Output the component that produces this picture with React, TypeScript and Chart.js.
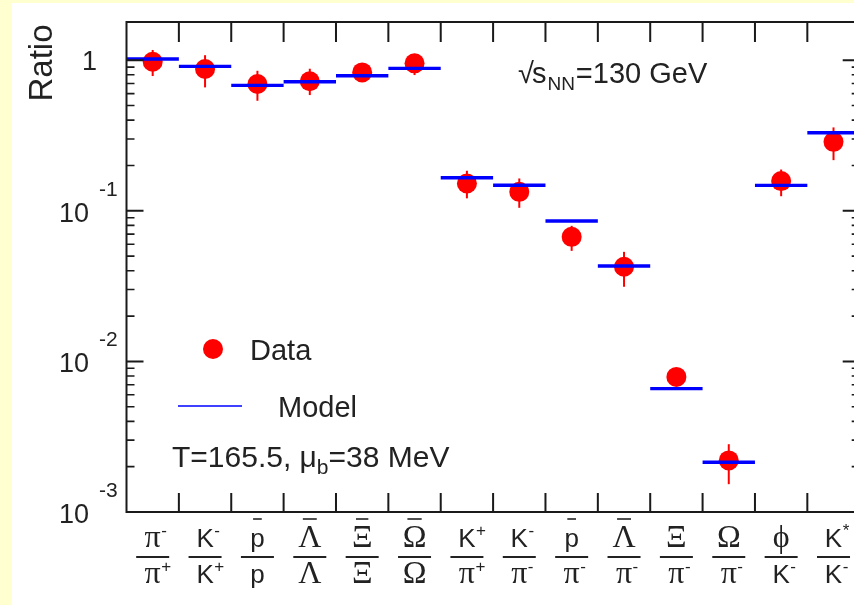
import React, { useEffect, useRef } from 'react';
import { Chart, registerables } from 'chart.js';

Chart.register(...registerables);

// ---------------- data ----------------
const categories = ['π-/π+', 'K-/K+', 'p̄/p', 'Λ̄/Λ', 'Ξ̄/Ξ', 'Ω̄/Ω', 'K+/π+', 'K-/π-', 'p̄/π-', 'Λ̄/π-', 'Ξ/π-', 'Ω/π-', 'ϕ/K-', 'K*/K-'];

type Sym = { t: string; greek?: boolean; bar?: boolean; sup?: string };

const numerators: Sym[] = [
  { t: 'π', greek: true, sup: '-' },
  { t: 'K', sup: '-' },
  { t: 'p', bar: true },
  { t: 'Λ', greek: true, bar: true },
  { t: 'Ξ', greek: true, bar: true },
  { t: 'Ω', greek: true, bar: true },
  { t: 'K', sup: '+' },
  { t: 'K', sup: '-' },
  { t: 'p', bar: true },
  { t: 'Λ', greek: true, bar: true },
  { t: 'Ξ', greek: true },
  { t: 'Ω', greek: true },
  { t: 'ϕ', greek: true },
  { t: 'K', sup: '*' },
];

const denominators: Sym[] = [
  { t: 'π', greek: true, sup: '+' },
  { t: 'K', sup: '+' },
  { t: 'p' },
  { t: 'Λ', greek: true },
  { t: 'Ξ', greek: true },
  { t: 'Ω', greek: true },
  { t: 'π', greek: true, sup: '+' },
  { t: 'π', greek: true, sup: '-' },
  { t: 'π', greek: true, sup: '-' },
  { t: 'π', greek: true, sup: '-' },
  { t: 'π', greek: true, sup: '-' },
  { t: 'π', greek: true, sup: '-' },
  { t: 'K', sup: '-' },
  { t: 'K', sup: '-' },
];

const dataValues = [0.977, 0.874, 0.695, 0.725, 0.83, 0.953, 0.152, 0.1337, 0.0672, 0.0425, 0.00789, 0.0022, 0.1575, 0.287];
const errLow = [0.785, 0.66, 0.538, 0.587, 0.8, 0.797, 0.121, 0.1047, 0.0542, 0.0313, 0.0076, 0.00153, 0.125, 0.217];
const errHigh = [1.17, 1.08, 0.851, 0.878, 0.86, 1.1, 0.1845, 0.164, 0.0795, 0.0534, 0.0082, 0.00282, 0.188, 0.358];
const modelValues = [1.02, 0.91, 0.681, 0.72, 0.789, 0.883, 0.1657, 0.148, 0.0855, 0.043, 0.0066, 0.00214, 0.1475, 0.33];

const yMajorTicks = [0.001, 0.01, 0.1, 1];
const yMajorLabels = [
  { base: '10', sup: '-3' },
  { base: '10', sup: '-2' },
  { base: '10', sup: '-1' },
  { base: '1', sup: '' },
];

// ---------------- styling ----------------
const SANS = '"Liberation Sans", Arial, Helvetica, sans-serif';
const SERIF = '"Liberation Serif", "DejaVu Serif", "Times New Roman", serif';
const TEXT = '#222222';
const AXIS = '#1a1a1a';
const RED = '#ff0000';
const BLUE = '#0000ff';

function drawSym(ctx: CanvasRenderingContext2D, s: Sym, cx: number, by: number, size: number) {
  ctx.font = s.greek ? `${size + 6}px ${SERIF}` : `${size}px ${SANS}`;
  const w = ctx.measureText(s.t).width;
  const x0 = cx - w / 2;
  ctx.textAlign = 'left';
  ctx.textBaseline = 'alphabetic';
  ctx.fillText(s.t, x0, by);
  if (s.sup) {
    ctx.font = `${Math.round(size * 0.64)}px ${SANS}`;
    ctx.fillText(s.sup, x0 + w + 0.5, by - size * 0.42);
  }
  if (s.bar) {
    ctx.save();
    ctx.lineWidth = 1.6;
    ctx.strokeStyle = TEXT;
    ctx.beginPath();
    ctx.moveTo(x0 + w * 0.2, by - 28);
    ctx.lineTo(x0 + w * 0.8, by - 28);
    ctx.stroke();
    ctx.restore();
  }
}

const framePlugin = {
  id: 'framePlugin',
  beforeDraw(chart: any) {
    const ctx = chart.ctx as CanvasRenderingContext2D;
    ctx.save();
    ctx.fillStyle = '#ffffcf';
    ctx.fillRect(0, 0, chart.width, chart.height);
    ctx.fillStyle = '#ffffff';
    ctx.fillRect(12, 3, chart.width - 12, chart.height - 3);
    ctx.restore();
  },
  beforeDatasetsDraw(chart: any) {
    const ctx = chart.ctx as CanvasRenderingContext2D;
    const xs = chart.scales.x;
    const ys = chart.scales.y;
    ctx.save();
    ctx.strokeStyle = RED;
    ctx.lineWidth = 2;
    dataValues.forEach((_, i) => {
      const x = xs.getPixelForValue(i);
      ctx.beginPath();
      ctx.moveTo(x, ys.getPixelForValue(errLow[i]));
      ctx.lineTo(x, ys.getPixelForValue(errHigh[i]));
      ctx.stroke();
    });
    ctx.restore();
  },
  afterDraw(chart: any) {
    const ctx = chart.ctx as CanvasRenderingContext2D;
    const xs = chart.scales.x;
    const ys = chart.scales.y;
    const { left, right, top, bottom } = chart.chartArea;
    ctx.save();
    // frame
    ctx.strokeStyle = AXIS;
    ctx.lineWidth = 2;
    ctx.strokeRect(left, top, right - left, bottom - top);
    // x ticks (category boundaries)
    ctx.beginPath();
    for (let i = 0; i < categories.length - 1; i++) {
      const x = xs.getPixelForValue(i + 0.5);
      ctx.moveTo(x, top);
      ctx.lineTo(x, top + 20);
      ctx.moveTo(x, bottom);
      ctx.lineTo(x, bottom - 19);
    }
    ctx.stroke();
    // y ticks
    ctx.beginPath();
    yMajorTicks.forEach((v) => {
      const y = ys.getPixelForValue(v);
      ctx.moveTo(left, y);
      ctx.lineTo(left + 17, y);
      ctx.moveTo(right, y);
      ctx.lineTo(right - 17, y);
    });
    ctx.stroke();
    ctx.lineWidth = 1.6;
    ctx.beginPath();
    for (let d = -3; d < 0; d++) {
      for (let k = 2; k <= 9; k++) {
        const y = ys.getPixelForValue(k * Math.pow(10, d));
        ctx.moveTo(left, y);
        ctx.lineTo(left + 8, y);
        ctx.moveTo(right, y);
        ctx.lineTo(right - 8, y);
      }
    }
    ctx.stroke();

    // y tick labels
    ctx.fillStyle = TEXT;
    ctx.textBaseline = 'alphabetic';
    yMajorTicks.forEach((v, i) => {
      const y = ys.getPixelForValue(v);
      const lab = yMajorLabels[i];
      ctx.font = `27px ${SANS}`;
      if (lab.sup) {
        ctx.textAlign = 'right';
        ctx.fillText(lab.base, 89, y + 11);
        ctx.font = `21px ${SANS}`;
        ctx.textAlign = 'left';
        ctx.fillText(lab.sup, 99, y - 15);
      } else {
        ctx.textAlign = 'right';
        ctx.fillText(lab.base, 97, y + 10);
      }
    });

    // y title
    ctx.save();
    ctx.translate(52, 63);
    ctx.rotate(-Math.PI / 2);
    ctx.font = `33px ${SANS}`;
    ctx.textAlign = 'center';
    ctx.fillText('Ratio', 0, 0);
    ctx.restore();

    // x labels (fractions)
    ctx.fillStyle = TEXT;
    categories.forEach((_, i) => {
      const cx = xs.getPixelForValue(i);
      drawSym(ctx, numerators[i], cx, 547, 26);
      drawSym(ctx, denominators[i], cx, 583, 26);
      ctx.lineWidth = 2;
      ctx.strokeStyle = TEXT;
      ctx.beginPath();
      ctx.moveTo(cx - 16.5, 557);
      ctx.lineTo(cx + 16.5, 557);
      ctx.stroke();
    });

    // energy text
    ctx.textAlign = 'left';
    let x = 518;
    ctx.font = `29px ${SANS}`;
    ctx.fillText('√', x, 83);
    x += ctx.measureText('√').width - 2;
    ctx.fillText('s', x, 83);
    x += ctx.measureText('s').width + 1;
    ctx.font = `19px ${SANS}`;
    ctx.fillText('NN', x, 90);
    x += ctx.measureText('NN').width + 1;
    ctx.font = `29px ${SANS}`;
    ctx.fillText('=130 GeV', x, 83);

    // legend
    ctx.fillStyle = RED;
    ctx.beginPath();
    ctx.arc(213, 349, 10, 0, Math.PI * 2);
    ctx.fill();
    ctx.fillStyle = TEXT;
    ctx.font = `29px ${SANS}`;
    ctx.fillText('Data', 250, 360);
    ctx.strokeStyle = BLUE;
    ctx.lineWidth = 1.5;
    ctx.beginPath();
    ctx.moveTo(178, 406);
    ctx.lineTo(242, 406);
    ctx.stroke();
    ctx.fillText('Model', 278, 417);

    // parameters text
    x = 172;
    ctx.font = `30px ${SANS}`;
    ctx.fillText('T=165.5, μ', x, 467);
    x += ctx.measureText('T=165.5, μ').width;
    ctx.font = `21px ${SANS}`;
    ctx.fillText('b', x, 474);
    x += ctx.measureText('b').width;
    ctx.font = `30px ${SANS}`;
    ctx.fillText('=38 MeV', x, 467);

    ctx.restore();
  },
};

export default function App() {
  const ref = useRef<HTMLCanvasElement>(null);
  useEffect(() => {
    const modelSegments: { x: number; y: number | null }[] = [];
    modelValues.forEach((v, i) => {
      modelSegments.push({ x: i - 0.5, y: v }, { x: i + 0.5, y: v }, { x: i + 0.5, y: null });
    });
    const chart = new Chart(ref.current as HTMLCanvasElement, {
      type: 'scatter',
      data: {
        datasets: [
          {
            type: 'line',
            label: 'Model',
            data: modelSegments as any,
            borderColor: BLUE,
            borderWidth: 3.4,
            borderCapStyle: 'butt',
            pointRadius: 0,
            spanGaps: false,
            fill: false,
            order: 0,
          } as any,
          {
            type: 'scatter',
            label: 'Data',
            data: dataValues.map((v, i) => ({ x: i, y: v })),
            pointRadius: 10,
            pointBackgroundColor: RED,
            pointBorderWidth: 0,
            backgroundColor: RED,
            borderColor: RED,
            order: 1,
          } as any,
        ],
      },
      options: {
        animation: false,
        responsive: false,
        devicePixelRatio: 1,
        layout: { padding: { left: 126.5, right: 880 - 859.7, top: 22, bottom: 93 } },
        scales: {
          x: { type: 'linear', min: -0.5, max: 13.5, display: false },
          y: { type: 'logarithmic', min: 0.001, max: 1.794, display: false },
        },
        plugins: { legend: { display: false }, tooltip: { enabled: false } },
        events: [],
      },
      plugins: [framePlugin],
    } as any);
    return () => chart.destroy();
  }, []);
  return (
    <div style={{ position: 'fixed', left: 0, top: 0, width: 854, height: 605, overflow: 'hidden', background: '#ffffff' }}>
      <canvas ref={ref} width={880} height={605} style={{ display: 'block', width: 880, height: 605 }} />
    </div>
  );
}
